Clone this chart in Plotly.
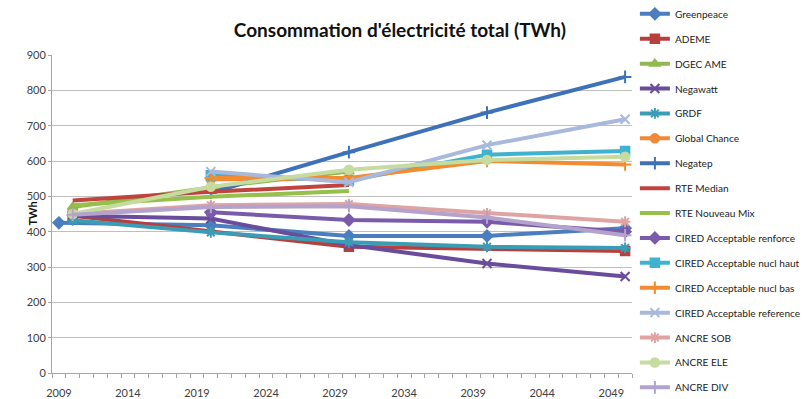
import plotly.graph_objects as go

years = [2009, 2010, 2020, 2030, 2040, 2050]

names = ["Greenpeace", "ADEME", "DGEC AME", "Negawatt", "GRDF", "Global Chance",
         "Negatep", "RTE Median", "RTE Nouveau Mix", "CIRED Acceptable renforce",
         "CIRED Acceptable nucl haut", "CIRED Acceptable nucl bas",
         "CIRED Acceptable reference", "ANCRE SOB", "ANCRE ELE", "ANCRE DIV"]

greenpeace = [425, None, 418, 388, 388, 410]
ademe = [None, 445, None, 357, None, 345]
dgec_ame = [None, 470, 525, 570, None, None]
negawatt = [None, 445, 437, 362, 310, 273]
grdf = [None, 432, 398, 370, 357, 354]
global_chance = [None, None, 548, 550, None, None]
negatep = [None, None, 510, 625, 737, 838]
rte_median = [None, 488, 513, 532, None, None]
rte_nouveau_mix = [None, 475, 499, 515, None, None]
cired_renforce = [None, None, 455, 433, 428, 400]
cired_nucl_haut = [None, None, 560, 545, 618, 628]
cired_nucl_bas = [None, None, 552, 552, 600, 590]
cired_reference = [None, None, 570, 540, 645, 718]
ancre_sob = [None, 450, 475, 478, 452, 428]
ancre_ele = [None, 450, 527, 575, 603, 612]
ancre_div = [None, 448, 470, 472, 440, 390]

series = [greenpeace, ademe, dgec_ame, negawatt, grdf, global_chance, negatep,
          rte_median, rte_nouveau_mix, cired_renforce, cired_nucl_haut,
          cired_nucl_bas, cired_reference, ancre_sob, ancre_ele, ancre_div]

colors = ["#4A7EBF", "#B7403C", "#93B850", "#6A4C9C", "#3A9DB5", "#F08A3A",
          "#3E72B8", "#C0433E", "#97C04A", "#7A5AAA", "#3FB2D0", "#F28C30",
          "#A9B9DB", "#DFA3A3", "#C6DBA0", "#B3A3CC"]
symbols = ["diamond", "square", "triangle-up", "x-thin-open", "asterisk-open", "circle",
           "cross-thin-open", None, None, "diamond", "square", "cross-thin-open",
           "x-thin-open", "asterisk-open", "circle", "cross-thin-open"]

fig = go.Figure()
for i, (nm, vals) in enumerate(zip(names, series)):
    sym = symbols[i]
    mode = "lines+markers" if sym else "lines"
    marker = dict(symbol=sym or "circle", size=9, color=colors[i],
                  line=dict(color=colors[i], width=2))
    if sym in ("square", "circle", "diamond", "triangle-up"):
        marker["line"] = dict(color=colors[i], width=1.5)
    fig.add_trace(go.Scatter(
        x=years, y=vals, name=nm, mode=mode, connectgaps=True,
        line=dict(color=colors[i], width=4), marker=marker,
        legendgroup=nm,
    ))

fig.add_annotation(text="<b>TWh</b>", xref="paper", yref="paper",
                   x=-0.05, y=0.5, textangle=-90, showarrow=False,
                   font=dict(size=11, color="#111111"))

fig.update_layout(
    width=803, height=399,
    margin=dict(l=52, r=171, t=55, b=26, autoexpand=False),
    paper_bgcolor="white", plot_bgcolor="white",
    font=dict(family="Lato, Carlito, sans-serif", size=11, color="#404040"),
    title=dict(text="<b>Consommation d'électricité total (TWh)</b>",
               x=0.498, xanchor="center", y=0.925, yanchor="middle",
               font=dict(size=19, color="#111111", family="Lato, sans-serif")),
    showlegend=True,
    legend=dict(x=1.005, xanchor="left", y=1.175, yanchor="top",
                font=dict(size=10.1, color="#222222"), tracegroupgap=5.9,
                bgcolor="rgba(0,0,0,0)", itemwidth=30, maxheight=1.0,
                borderwidth=0),
    xaxis=dict(range=[2008.5, 2050.5], tickvals=list(range(2009, 2050, 5)),
               ticks="", showgrid=False, showline=True, linecolor="#A6A6A6",
               linewidth=1, zeroline=False, ticklabelstandoff=10,
               minor=dict(ticks="outside", tick0=2008.5, dtick=1, ticklen=4,
                          tickcolor="#A6A6A6", showgrid=False),
               tickfont=dict(size=11, color="#404040")),
    yaxis=dict(range=[0, 900], dtick=100, showgrid=True, gridcolor="#BFBFBF",
               gridwidth=1, showline=True, linecolor="#A6A6A6", zeroline=False,
               ticks="outside", ticklen=3, tickcolor="#A6A6A6",
               tickfont=dict(size=11, color="#404040")),
)

fig.write_html("out.html", config={"displayModeBar": False},
               post_script="document.body.style.margin='0px';")
